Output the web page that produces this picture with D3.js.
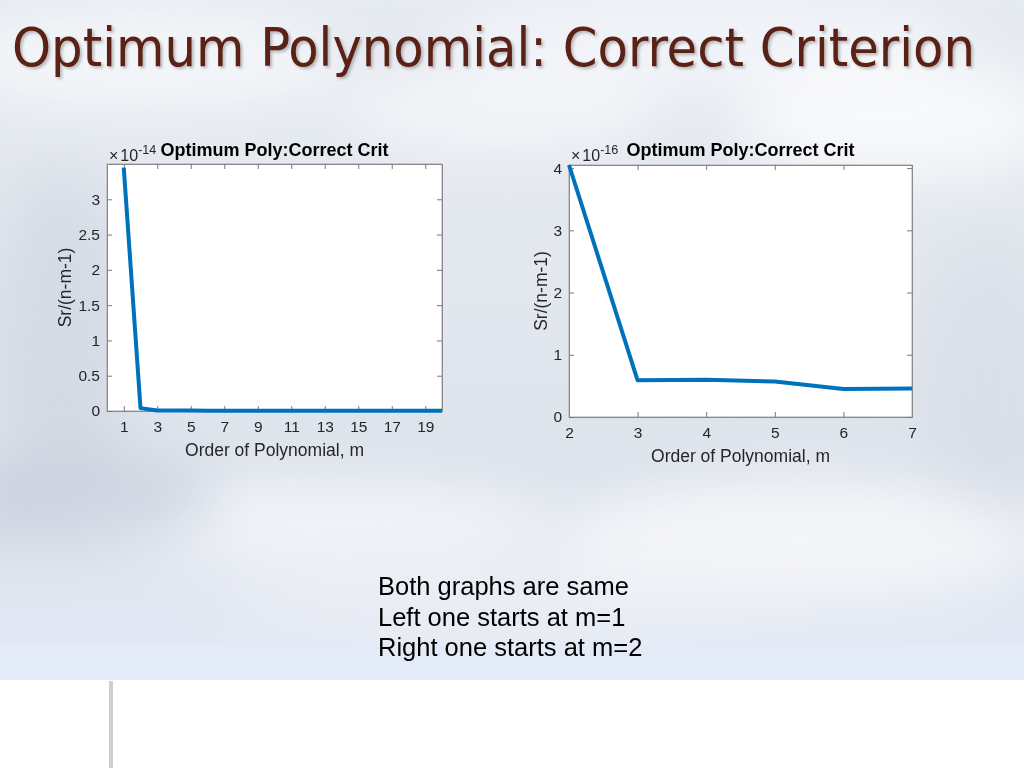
<!DOCTYPE html>
<html><head><meta charset="utf-8">
<script src="https://cdn.jsdelivr.net/npm/d3@7"></script>
<style>
html,body{margin:0;padding:0;width:1024px;height:768px;overflow:hidden;}
svg{display:block;}
</style></head>
<body>
<svg id="c" width="1024" height="768"></svg>
<script>
// ---- data ----
const leftOrders = [1,2,3,4,5,6,7,8,9,10,11,12,13,14,15,16,17,18,19,20];
// values in units of 1e-14
const leftValues = [3.45,0.0405,0.0059,0.0060,0.0057,0.0045,0.0046,0.0045,0.0046,0.0044,0.0045,0.0044,0.0043,0.0044,0.0043,0.0042,0.0043,0.0042,0.0042,0.0043];
const leftXTicks = [1,3,5,7,9,11,13,15,17,19];
const leftYTicks = [0,0.5,1,1.5,2,2.5,3];

const rightOrders = [2,3,4,5,6,7];
// values in units of 1e-16
const rightValues = [4.05,0.59,0.60,0.57,0.45,0.46];
const rightXTicks = [2,3,4,5,6,7];
const rightYTicks = [0,1,2,3,4];

const pageTitle = "Optimum Polynomial: Correct Criterion";
const plotTitle = "Optimum Poly:Correct Crit";
const xLabel = "Order of Polynomial, m";
const yLabel = "Sr/(n-m-1)";
const notes = ["Both graphs are same","Left one starts at m=1","Right one starts at m=2"];

const svg = d3.select("#c");
const defs = svg.append("defs");

// ---- background ----
const bg = defs.append("linearGradient").attr("id","bg").attr("x1",0).attr("y1",0).attr("x2",0).attr("y2",1);
bg.append("stop").attr("offset","0%").attr("stop-color","#e6eaf1");
bg.append("stop").attr("offset","40%").attr("stop-color","#e3e8ef");
bg.append("stop").attr("offset","70%").attr("stop-color","#dde3ec");
bg.append("stop").attr("offset","100%").attr("stop-color","#e4eaf6");
const blur = defs.append("filter").attr("id","blur").attr("x","-50%").attr("y","-50%").attr("width","200%").attr("height","200%");
blur.append("feGaussianBlur").attr("stdDeviation",28);
const sh = defs.append("filter").attr("id","shadow").attr("x","-5%").attr("y","-5%").attr("width","110%").attr("height","130%");
sh.append("feDropShadow").attr("dx",2).attr("dy",2).attr("stdDeviation",1.5).attr("flood-color","#000").attr("flood-opacity",0.25);

svg.append("rect").attr("width",1024).attr("height",680).attr("fill","url(#bg)");
const clouds = svg.append("g").attr("filter","url(#blur)");
[[150,60,200,50,"#f5f7fa",0.9],[700,40,260,50,"#f2f4f8",0.9],[900,120,160,60,"#ffffff",0.7],
 [60,330,70,160,"#ccd4e0",0.6],[300,520,260,40,"#f3f5f9",0.9],[80,500,140,45,"#c5cddb",0.7],
 [800,540,240,60,"#f6f7fa",0.9],[520,600,300,40,"#eceff5",0.8],[990,380,70,140,"#d3dae6",0.5],
 [500,110,160,40,"#f6f7fa",0.8]].forEach(d=>{
  clouds.append("ellipse").attr("cx",d[0]).attr("cy",d[1]).attr("rx",d[2]).attr("ry",d[3]).attr("fill",d[4]).attr("opacity",d[5]);
});
svg.append("rect").attr("y",645).attr("width",1024).attr("height",35).attr("fill","#e3eaf8").attr("opacity",0.85);
svg.append("rect").attr("y",680).attr("width",1024).attr("height",88).attr("fill","#ffffff");
svg.append("rect").attr("x",109).attr("y",681).attr("width",4).attr("height",87).attr("fill","#cfcfcf");

// ---- page title ----
svg.append("text").attr("x",12).attr("y",66)
  .attr("font-family","'DejaVu Sans Condensed', 'DejaVu Sans', sans-serif")
  .attr("font-size",53).attr("fill","#5a2314").attr("filter","url(#shadow)")
  .attr("textLength",963).attr("lengthAdjust","spacingAndGlyphs")
  .text(pageTitle);

// ---- plotting function ----
function drawPlot(o){
  const g = svg.append("g");
  const x = d3.scaleLinear().domain(o.xDomain).range([o.left,o.right]);
  const y = d3.scaleLinear().domain(o.yDomain).range([o.bottom,o.top]);
  g.append("rect").attr("x",o.left).attr("y",o.top).attr("width",o.right-o.left).attr("height",o.bottom-o.top)
    .attr("fill","#ffffff").attr("stroke","#a8a8a8").attr("stroke-width",1);
  const ax = "#262626";
  const fnt = "Arial, 'Liberation Sans', sans-serif";
  const xb = g.append("g").attr("transform",`translate(0,${o.bottom})`)
    .call(d3.axisBottom(x).tickValues(o.xTicks).tickSize(-5).tickPadding(10).tickFormat(d3.format("d")));
  const xt = g.append("g").attr("transform",`translate(0,${o.top})`)
    .call(d3.axisTop(x).tickValues(o.xTicks).tickSize(-5).tickFormat(""));
  const yl = g.append("g").attr("transform",`translate(${o.left},0)`)
    .call(d3.axisLeft(y).tickValues(o.yTicks).tickSize(-5).tickPadding(7).tickFormat(d=>String(d)));
  const yr = g.append("g").attr("transform",`translate(${o.right},0)`)
    .call(d3.axisRight(y).tickValues(o.yTicks).tickSize(-5).tickFormat(""));
  [xb,xt,yl,yr].forEach(a=>{
    a.select(".domain").attr("stroke","#8a8a8a");
    a.selectAll(".tick line").attr("stroke","#7a7a7a");
    a.selectAll("text").attr("font-family",fnt).attr("font-size",15.5).attr("fill",ax);
  });
  const line = d3.line().x((d,i)=>x(o.xs[i])).y(d=>y(d));
  g.append("path").datum(o.ys).attr("d",line).attr("fill","none")
    .attr("stroke","#0072BD").attr("stroke-width",4).attr("stroke-linejoin","round");
  const cx = (o.left+o.right)/2;
  g.append("text").attr("x",cx).attr("y",o.bottom+45).attr("text-anchor","middle")
    .attr("font-family",fnt).attr("font-size",17.5).attr("fill",ax).text(xLabel);
  g.append("text").attr("transform",`translate(${o.yLabelX},${(o.top+o.bottom)/2}) rotate(-90)`)
    .attr("text-anchor","middle").attr("font-family",fnt).attr("font-size",17.5).attr("fill",ax).text(yLabel);
  g.append("text").attr("x",cx).attr("y",156).attr("text-anchor","middle")
    .attr("font-family",fnt).attr("font-size",18).attr("font-weight","bold").attr("fill","#000").text(plotTitle);
  const ex = g.append("text").attr("x",o.left+2).attr("y",161)
    .attr("font-family",fnt).attr("font-size",16).attr("fill",ax);
  ex.append("tspan").attr("font-weight","300").text("\u00d7");
  ex.append("tspan").attr("dx",2).text("10");
  ex.append("tspan").attr("dy",-7).attr("font-size",12.5).text(o.exp);
}

drawPlot({left:107,right:442,top:164,bottom:411,xDomain:[0,20],yDomain:[0,3.5],
  xTicks:leftXTicks,yTicks:leftYTicks,xs:leftOrders,ys:leftValues,exp:"-14",yLabelX:71});
drawPlot({left:569,right:912,top:165,bottom:417,xDomain:[2,7],yDomain:[0,4.05],
  xTicks:rightXTicks,yTicks:rightYTicks,xs:rightOrders,ys:rightValues,exp:"-16",yLabelX:547});

// ---- notes ----
const nt = svg.append("text").attr("font-family","Arial, 'Liberation Sans', sans-serif")
  .attr("font-size",25.5).attr("fill","#000");
notes.forEach((t,i)=>nt.append("tspan").attr("x",378).attr("y",595+i*30.5).text(t));
</script>
</body></html>
